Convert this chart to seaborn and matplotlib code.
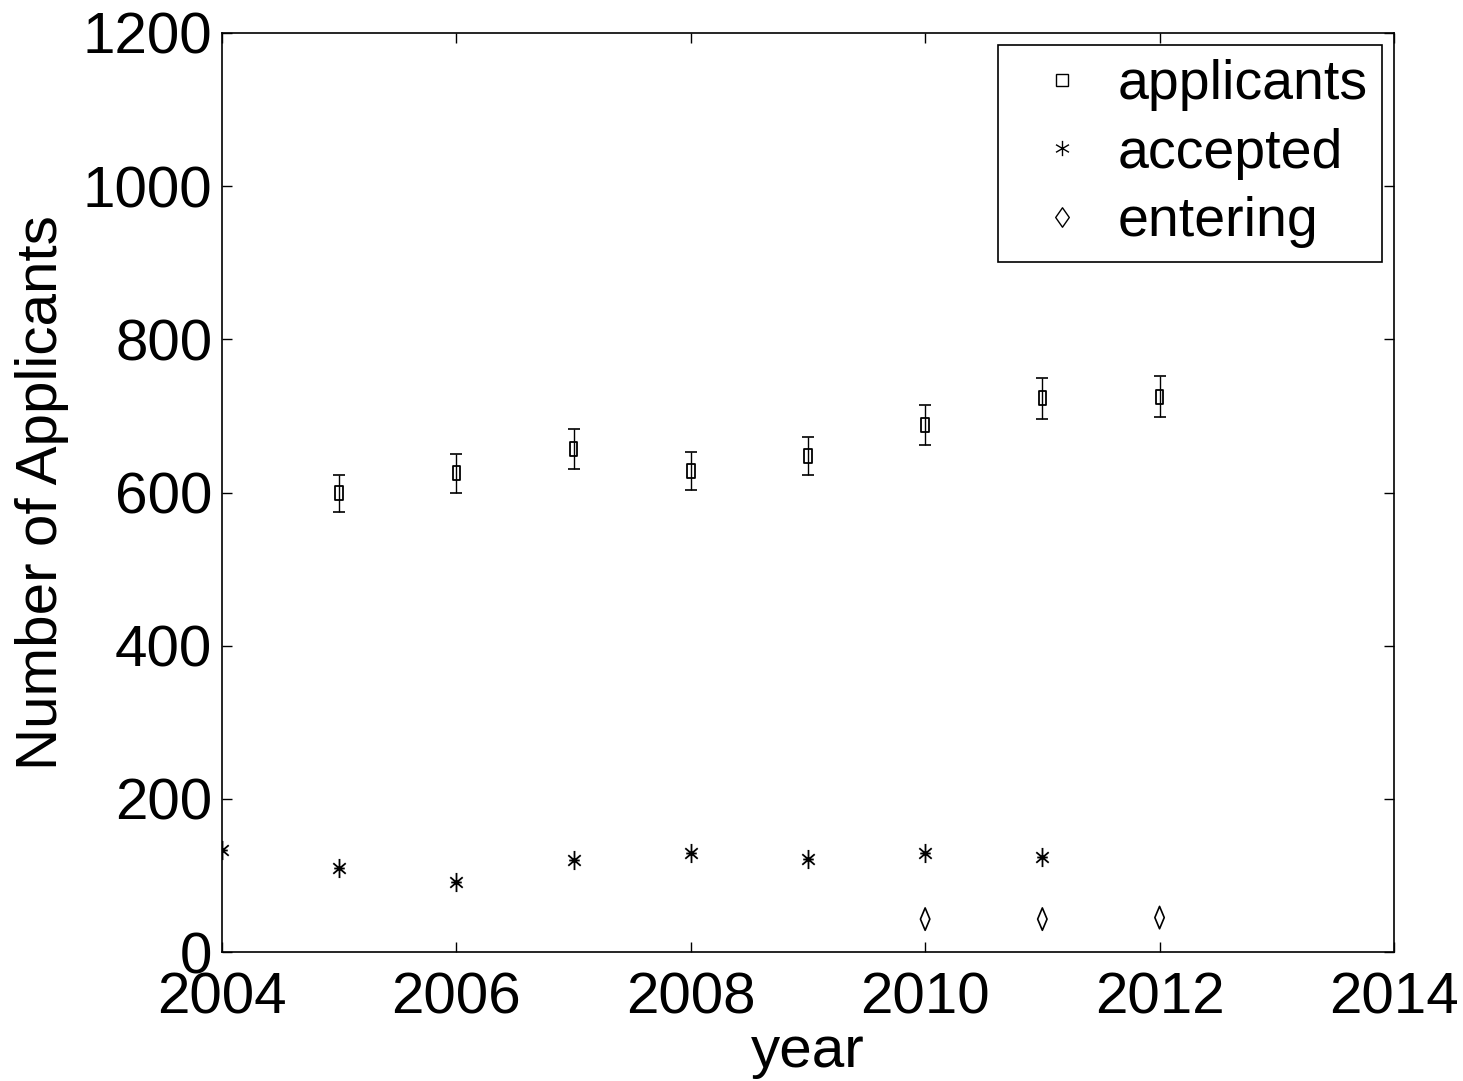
import matplotlib
matplotlib.use('Agg')
import matplotlib.pyplot as plt
import seaborn as sns
from matplotlib.path import Path
from matplotlib.lines import Line2D

# 数据
years_app = [2005, 2006, 2007, 2008, 2009, 2010, 2011, 2012]
applicants = [599, 625, 657, 628, 648, 688, 723, 725]
app_err = [24, 25, 26, 25, 25, 26, 27, 27]

years_acc = [2004, 2005, 2006, 2007, 2008, 2009, 2010, 2011]
accepted = [133, 110, 91, 120, 129, 121, 129, 124]

years_ent = [2010, 2011, 2012]
entering = [43, 43, 45]

sns.set_style('ticks')
plt.rcParams['font.family'] = ['Liberation Sans', 'DejaVu Sans']
plt.rcParams['text.color'] = 'black'
plt.rcParams['axes.labelcolor'] = 'black'
plt.rcParams['xtick.color'] = 'black'
plt.rcParams['ytick.color'] = 'black'

# 自定义标记（MATLAB风格，纵向拉长）
rect = Path([(-0.55, -1), (0.55, -1), (0.55, 1), (-0.55, 1), (-0.55, -1)],
            [Path.MOVETO, Path.LINETO, Path.LINETO, Path.LINETO, Path.CLOSEPOLY])
diamond = Path([(0, -1), (0.42, 0), (0, 1), (-0.42, 0), (0, -1)],
               [Path.MOVETO, Path.LINETO, Path.LINETO, Path.LINETO, Path.CLOSEPOLY])
diamond_leg = Path([(0, -1), (0.7, 0), (0, 1), (-0.7, 0), (0, -1)],
                   [Path.MOVETO, Path.LINETO, Path.LINETO, Path.LINETO, Path.CLOSEPOLY])
star = Path([(0, -1), (0, 1), (-0.65, -0.55), (0.65, 0.55), (-0.65, 0.55), (0.65, -0.55),
             (-0.55, 0), (0.55, 0)],
            [Path.MOVETO, Path.LINETO, Path.MOVETO, Path.LINETO, Path.MOVETO, Path.LINETO,
             Path.MOVETO, Path.LINETO])
star_leg = Path([(0, -1), (0, 1), (-0.85, -0.5), (0.85, 0.5), (-0.85, 0.5), (0.85, -0.5)],
                [Path.MOVETO, Path.LINETO, Path.MOVETO, Path.LINETO, Path.MOVETO, Path.LINETO])

fig = plt.figure(figsize=(14.63, 10.81), dpi=100)
ax = fig.add_axes([0.1517, 0.1193, 0.8011, 0.8502])

ax.errorbar(years_app, applicants, yerr=app_err, fmt='none', ecolor='black',
            elinewidth=1, capsize=4.5, capthick=1.2)
sns.scatterplot(x=years_app, y=applicants, marker=rect, s=100, facecolor='none',
                edgecolor='black', linewidth=1.3, ax=ax, zorder=3)
sns.scatterplot(x=years_acc, y=accepted, marker=star, s=190, color='black',
                edgecolor='black', linewidth=1.3, ax=ax, zorder=3)
sns.scatterplot(x=years_ent, y=entering, marker=diamond, s=260, facecolor='none',
                edgecolor='black', linewidth=1.2, ax=ax, zorder=3)

ax.set_xlim(2004, 2014)
ax.set_ylim(0, 1200)
ax.set_xticks([2004, 2006, 2008, 2010, 2012, 2014])
ax.set_yticks([0, 200, 400, 600, 800, 1000, 1200])

for s in ax.spines.values():
    s.set_visible(True)
    s.set_linewidth(1.2)
    s.set_color('black')

ax.tick_params(axis='both', direction='in', length=7, width=1, color='black',
               top=True, right=True)
ax.tick_params(axis='y', labelsize=42, pad=7)
ax.tick_params(axis='x', labelsize=42, pad=14)

ax.set_xlabel('year', fontsize=42, labelpad=0)
ax.set_ylabel('Number of Applicants', fontsize=42, labelpad=10)

handles = [
    Line2D([], [], linestyle='none', marker='s', markersize=9, markerfacecolor='none',
           markeredgecolor='black', markeredgewidth=1),
    Line2D([], [], linestyle='none', marker=star_leg, markersize=11, color='black',
           markeredgewidth=1),
    Line2D([], [], linestyle='none', marker=diamond_leg, markersize=14,
           markerfacecolor='none', markeredgecolor='black', markeredgewidth=1),
]
leg = ax.legend(handles, ['applicants', 'accepted', 'entering'], loc='upper right',
                fontsize=40, frameon=True, fancybox=False, edgecolor='black',
                framealpha=1, borderaxespad=0.22, handletextpad=0.1, labelspacing=0.3,
                borderpad=0.25, handlelength=1.8)
leg.get_frame().set_linewidth(1.2)

fig.savefig('out.png', dpi=100)
